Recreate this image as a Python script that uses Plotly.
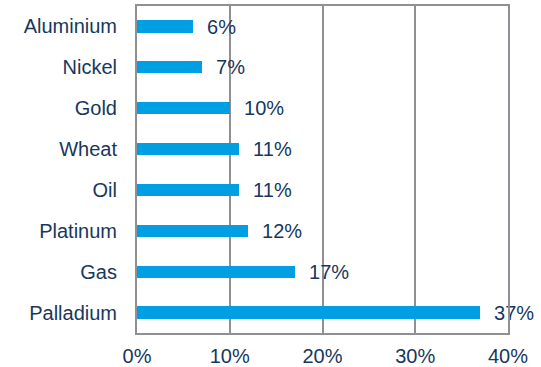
import plotly.graph_objects as go

categories = ["Aluminium", "Nickel", "Gold", "Wheat", "Oil", "Platinum", "Gas", "Palladium"]
values = [0.06, 0.07, 0.10, 0.11, 0.11, 0.12, 0.17, 0.37]
x_ticks = [0, 0.1, 0.2, 0.3, 0.4]
x_tick_labels = ["0%", "10%", "20%", "30%", "40%"]

bar_color = "#009FE3"
text_color = "#17375E"
grid_color = "#8E9096"

fig = go.Figure(go.Bar(
    x=values, y=categories, orientation="h",
    marker=dict(color=bar_color, line=dict(width=0)),
    width=0.3,
    texttemplate="  %{x:.0%}", textposition="outside",
    constraintext="none",
    textfont=dict(size=20, color=text_color, family="Liberation Sans, Arial, sans-serif"),
    cliponaxis=False,
))

fig.update_layout(
    width=541, height=367,
    margin=dict(l=137, r=33, t=6, b=34, autoexpand=False),
    plot_bgcolor="white", paper_bgcolor="white",
    font=dict(family="Liberation Sans, Arial, sans-serif", size=20, color=text_color),
    showlegend=False,
    bargap=0,
)
fig.update_xaxes(
    range=[0, 0.4], tickvals=x_ticks, ticktext=x_tick_labels,
    showgrid=True, gridcolor=grid_color, gridwidth=1.5,
    showline=True, linecolor=grid_color, linewidth=2, mirror=True,
    zeroline=False, ticks="", ticklabelstandoff=4, automargin=False,
)
fig.update_yaxes(
    categoryorder="array", categoryarray=categories[::-1],
    showgrid=False, showline=True, linecolor=grid_color, linewidth=2, mirror=True,
    ticks="", ticklabelstandoff=14, automargin=False,
)

fig.write_html(
    "out.html",
    config={"displayModeBar": False},
    post_script="document.body.style.margin='0';document.body.style.padding='0';",
)
